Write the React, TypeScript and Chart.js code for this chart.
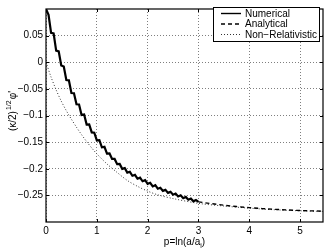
import React, { useEffect, useRef } from 'react';
import { Chart, registerables } from 'chart.js';

Chart.register(...registerables);

const seriesLabels = ['Numerical', 'Analytical', 'Non\u2212Relativistic'];

const numericalX = [
  0, 0.05, 0.1, 0.15, 0.2, 0.25, 0.3, 0.35, 0.4, 0.45,
  0.5, 0.55, 0.6, 0.65, 0.7, 0.75, 0.8, 0.85, 0.9, 0.95,
  1, 1.05, 1.1, 1.15, 1.2, 1.25, 1.3, 1.35, 1.4, 1.45,
  1.5, 1.55, 1.6, 1.65, 1.7, 1.75, 1.8, 1.85, 1.9, 1.95,
  2, 2.05, 2.1, 2.15, 2.2, 2.25, 2.3, 2.35, 2.4, 2.45,
  2.5, 2.55, 2.6, 2.65, 2.7, 2.75, 2.8, 2.85, 2.9, 2.95, 3,
];
const numericalY = [
  0.1, 0.0891, 0.0551, 0.0541, 0.0219, 0.0205, -0.0062, -0.0081, -0.0333, -0.0339,
  -0.0578, -0.0582, -0.0789, -0.0792, -0.0989, -0.0982, -0.117, -0.1168, -0.1318, -0.1323,
  -0.1465, -0.1463, -0.1598, -0.1589, -0.1717, -0.1713, -0.1816, -0.1816, -0.1914, -0.1909,
  -0.2002, -0.1988, -0.2072, -0.2057, -0.2131, -0.2115, -0.2186, -0.2167, -0.2235, -0.2215,
  -0.2283, -0.2264, -0.2331, -0.2309, -0.2374, -0.2356, -0.2415, -0.2397, -0.2453, -0.2434,
  -0.2488, -0.2467, -0.2521, -0.2498, -0.2552, -0.2529, -0.2582, -0.256, -0.2612, -0.2589, -0.2622,
];

const analyticalX = [3, 3.25, 3.5, 3.75, 4, 4.25, 4.5, 4.75, 5, 5.25, 5.45];
const analyticalY = [-0.2622, -0.2655, -0.2685, -0.271, -0.273, -0.2748, -0.2762, -0.2774, -0.2784, -0.2792, -0.2797];

const nonRelX = [0, 0.1, 0.2, 0.3, 0.4, 0.5, 0.6, 0.7, 0.8, 0.9, 1, 1.2, 1.4, 1.6, 1.8, 2, 2.2, 2.5, 3, 3.5, 4, 4.5, 5, 5.45];
const nonRelY = [0, -0.028, -0.052, -0.073, -0.091, -0.107, -0.122, -0.136, -0.149, -0.161, -0.172, -0.191, -0.207, -0.222, -0.233, -0.242, -0.249, -0.256, -0.265, -0.27, -0.274, -0.277, -0.279, -0.28];

const xTickValues = [0, 1, 2, 3, 4, 5];
const yTickValues = [0.05, 0, -0.05, -0.1, -0.15, -0.2, -0.25];

const FONT = "'Liberation Sans', Arial, Helvetica, sans-serif";

const pts = (xs: number[], ys: number[]) => xs.map((x, i) => ({ x, y: ys[i] }));

const decoPlugin = {
  id: 'deco',
  afterDraw(chart: any) {
    const { ctx, chartArea: a, scales } = chart;
    ctx.save();
    ctx.strokeStyle = '#000';
    ctx.lineWidth = 1;
    ctx.setLineDash([]);
    ctx.beginPath();
    xTickValues.forEach((v) => {
      const px = Math.round(scales.x.getPixelForValue(v)) + 0.5;
      ctx.moveTo(px, a.bottom);
      ctx.lineTo(px, a.bottom - 3);
      ctx.moveTo(px, a.top);
      ctx.lineTo(px, a.top + 3);
    });
    yTickValues.forEach((v) => {
      const py = Math.round(scales.y.getPixelForValue(v)) + 0.5;
      ctx.moveTo(a.left, py);
      ctx.lineTo(a.left + 3, py);
      ctx.moveTo(a.right, py);
      ctx.lineTo(a.right - 3, py);
    });
    ctx.stroke();
    ctx.lineWidth = 1.2;
    ctx.strokeRect(a.left, a.top, a.right - a.left, a.bottom - a.top);

    // legend
    const lx = 213, ly = 7, lw = 106, lh = 34;
    ctx.fillStyle = '#fff';
    ctx.fillRect(lx, ly, lw, lh);
    ctx.lineWidth = 1;
    ctx.strokeStyle = '#000';
    ctx.strokeRect(lx + 0.5, ly + 0.5, lw, lh);
    const rows = [13.5, 24, 34.5];
    ctx.font = `10px ${FONT}`;
    ctx.textBaseline = 'middle';
    ctx.textAlign = 'left';
    chart.data.datasets.forEach((ds: any, i: number) => {
      const y = rows[i];
      ctx.beginPath();
      ctx.strokeStyle = ds.borderColor;
      ctx.lineWidth = i === 2 ? 1 : 1.4;
      ctx.setLineDash(ds.borderDash || []);
      ctx.moveTo(221, y);
      ctx.lineTo(241, y);
      ctx.stroke();
      ctx.setLineDash([]);
      ctx.fillStyle = '#000';
      ctx.fillText(ds.label, 245, y + 0.5);
    });

    // y axis title
    ctx.save();
    ctx.translate(12, 111);
    ctx.rotate(-Math.PI / 2);
    const main1 = '(\u03BA/2)';
    const sup = '1/2';
    const main2 = "\u03C6'";
    ctx.font = `10px ${FONT}`;
    const w1 = ctx.measureText(main1).width;
    const w3 = ctx.measureText(main2).width;
    ctx.font = `7px ${FONT}`;
    const w2 = ctx.measureText(sup).width;
    const total = w1 + w2 + 2 + w3;
    let x0 = -total / 2;
    ctx.fillStyle = '#000';
    ctx.textBaseline = 'alphabetic';
    ctx.font = `10px ${FONT}`;
    ctx.fillText(main1, x0, 4);
    x0 += w1 + 1;
    ctx.font = `7px ${FONT}`;
    ctx.fillText(sup, x0, -1);
    x0 += w2 + 1;
    ctx.font = `10px ${FONT}`;
    ctx.fillText(main2, x0, 4);
    ctx.restore();

    // x axis title
    const t1 = 'p=ln(a/a';
    const sub = 'i';
    const t3 = ')';
    ctx.font = `10px ${FONT}`;
    const u1 = ctx.measureText(t1).width;
    const u3 = ctx.measureText(t3).width;
    ctx.font = `7px ${FONT}`;
    const u2 = ctx.measureText(sub).width;
    const tw = u1 + u2 + u3;
    let xx = (a.left + a.right) / 2 - tw / 2;
    const by = 245;
    ctx.textBaseline = 'alphabetic';
    ctx.font = `10px ${FONT}`;
    ctx.fillText(t1, xx, by);
    xx += u1;
    ctx.font = `7px ${FONT}`;
    ctx.fillText(sub, xx, by + 3);
    xx += u2;
    ctx.font = `10px ${FONT}`;
    ctx.fillText(t3, xx, by);
    ctx.restore();
  },
};

export default function App() {
  const ref = useRef<HTMLCanvasElement | null>(null);
  useEffect(() => {
    if (!ref.current) return;
    const fmt = (v: number) => (v === 0 ? '0' : String(v).replace('-', '\u2212'));
    const chart = new Chart(ref.current, {
      type: 'line',
      data: {
        datasets: [
          {
            label: seriesLabels[0],
            data: pts(numericalX, numericalY),
            borderColor: '#000',
            borderWidth: 2.2,
            pointRadius: 0,
            tension: 0,
          },
          {
            label: seriesLabels[1],
            data: pts(analyticalX, analyticalY),
            borderColor: '#000',
            borderWidth: 1.4,
            borderDash: [4, 3],
            pointRadius: 0,
            tension: 0,
          },
          {
            label: seriesLabels[2],
            data: pts(nonRelX, nonRelY),
            borderColor: '#333',
            borderWidth: 1,
            borderDash: [1, 2],
            pointRadius: 0,
            tension: 0.3,
          },
        ],
      },
      options: {
        animation: false,
        responsive: false,
        devicePixelRatio: 1,
        layout: { padding: { top: 1, right: 5, left: 0, bottom: 0 } },
        plugins: { legend: { display: false }, tooltip: { enabled: false } },
        scales: {
          x: {
            type: 'linear',
            min: 0,
            max: 5.45,
            afterBuildTicks: (s: any) => {
              s.ticks = xTickValues.map((v) => ({ value: v }));
            },
            afterFit: (s: any) => {
              s.height = 30;
            },
            ticks: {
              autoSkip: false,
              maxRotation: 0,
              padding: 3,
              color: '#000',
              font: { family: FONT, size: 10 },
              callback: (v: any) => fmt(Number(v)),
            },
            grid: { display: true, drawTicks: false, color: 'rgba(0,0,0,0.5)', lineWidth: 1 },
            border: { display: false, dash: [1, 2] },
          },
          y: {
            type: 'linear',
            min: -0.3,
            max: 0.1,
            afterBuildTicks: (s: any) => {
              s.ticks = yTickValues.map((v) => ({ value: v }));
            },
            afterFit: (s: any) => {
              s.width = 46;
            },
            ticks: {
              autoSkip: false,
              padding: 3,
              color: '#000',
              font: { family: FONT, size: 10 },
              callback: (v: any) => fmt(Number(v)),
            },
            grid: { display: true, drawTicks: false, color: 'rgba(0,0,0,0.5)', lineWidth: 1 },
            border: { display: false, dash: [1, 2] },
          },
        },
      },
      plugins: [decoPlugin],
    });
    return () => chart.destroy();
  }, []);
  return (
    <div style={{ position: 'fixed', left: 0, top: 0, width: 328, height: 252, background: '#fff' }}>
      <canvas ref={ref} width={328} height={252} style={{ width: 328, height: 252, display: 'block' }} />
    </div>
  );
}
